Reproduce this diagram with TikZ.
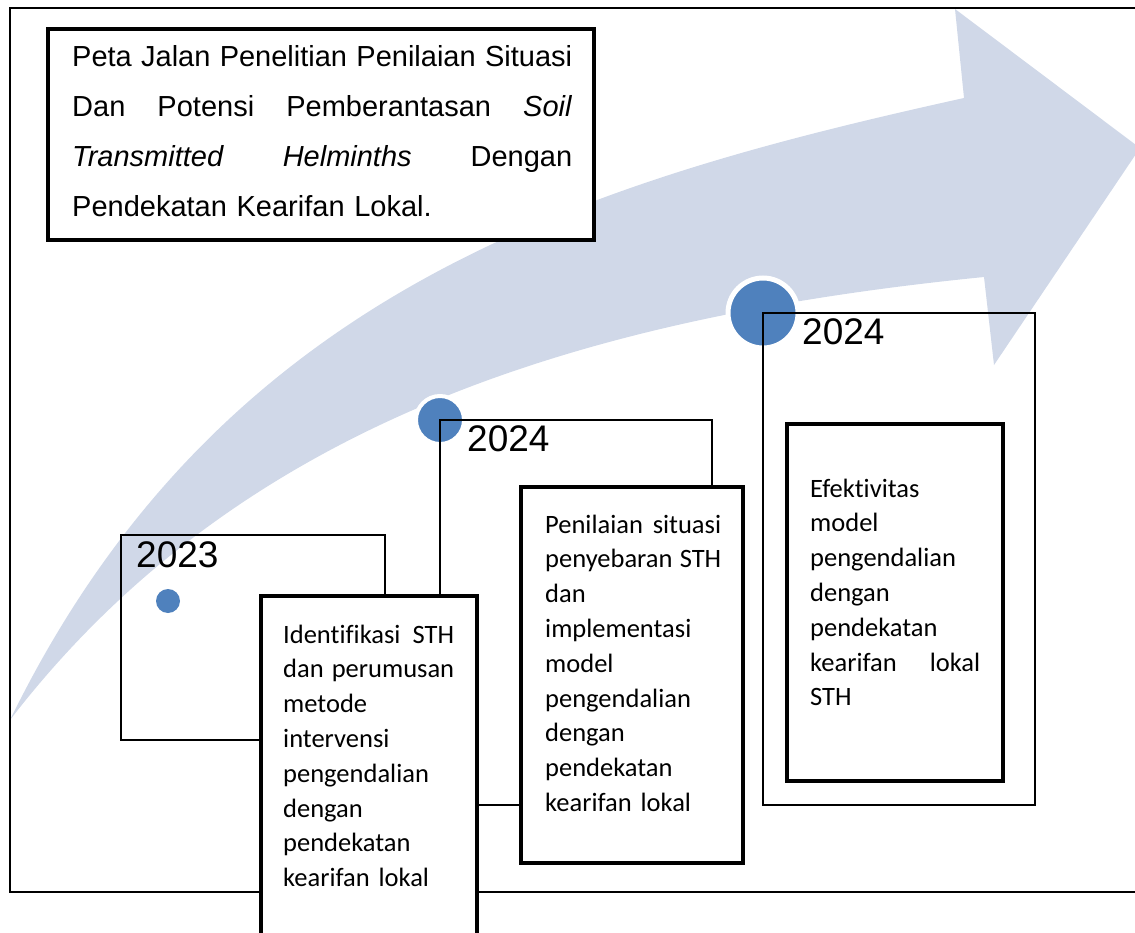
\documentclass[tikz,border=0pt]{standalone}
\usepackage{fontspec}
\setmainfont{Liberation Sans}
\newfontfamily\boxfont{Carlito}[Ligatures=NoCommon]
\definecolor{arrowfill}{HTML}{D0D8E8}
\definecolor{dotblue}{HTML}{4F81BD}
\newcommand{\jline}[2]{\leavevmode\hbox to #1{#2}}
\begin{document}
\begin{tikzpicture}[x=1pt, y=-1pt,
    thinbox/.style={draw=black, line width=1.4pt},
    thickbox/.style={draw=black, fill=white, line width=4.5pt},
    yeartext/.style={anchor=base west, inner sep=0pt, font=\fontsize{37}{40}\selectfont},
    boxtext/.style={anchor=base west, inner sep=0pt, align=left, font=\boxfont\fontsize{26.5}{34.8}\selectfont}]
    \useasboundingbox (0,0) rectangle (1135,933);
    \clip (0,0) rectangle (1135,933);

    % Curved arrow
    \fill[arrowfill] (10,720) .. controls (220,290) and (584,182) .. (964,98)
        -- (955,9) -- (1140,148) -- (994,365) -- (984,277)
        .. controls (584,317) and (240,421) .. (10,720) -- cycle;

    % Frame
    \draw[line width=1.4pt] (1140,8) -- (10,8) -- (10,892) -- (1140,892);

    % Milestones
    \fill[dotblue] (168,601) circle (12pt);
    \filldraw[dotblue, draw=white, line width=4pt] (440,420) circle (24pt);
    \filldraw[dotblue, draw=white, line width=5pt] (763,313) circle (35pt);

    % Year boxes
    \draw[thinbox] (121,535) rectangle (385,740);
    \draw[thinbox] (440,420) rectangle (712,805);
    \draw[thinbox] (763,313) rectangle (1035,805);
    \node[yeartext] (year1) at (136,567) {2023};
    \node[yeartext] (year2) at (467,451) {2024};
    \node[yeartext] (year3) at (802,344) {2024};

    % Step boxes
    \draw[thickbox] (261,596) rectangle (477,950);
    \draw[thickbox] (521,487) rectangle (743,863);
    \draw[thickbox] (787,424) rectangle (1003,781);
    \node[boxtext, text width=171pt] (stepA) at (283,643)
        {\jline{171pt}{Identifikasi\hfill STH}\\ \jline{171pt}{dan\hfill perumusan}\\ metode\\ intervensi\\
         pengendalian\\ dengan\\ pendekatan\\ kearifan lokal};
    \node[boxtext, text width=176pt] (stepB) at (545,533)
        {\jline{176pt}{Penilaian\hfill situasi}\\ \jline{176pt}{penyebaran\hfill STH}\\ dan\\ implementasi\\ model\\
         pengendalian\\ dengan\\ pendekatan\\ kearifan lokal};
    \node[boxtext, text width=170pt] (stepC) at (810,497)
        {Efektivitas\\ model\\ pengendalian\\ dengan\\ pendekatan\\ \jline{170pt}{kearifan\hfill lokal}\\ STH};

    % Title
    \draw[thickbox] (48,29) rectangle (594,240);
    \node[anchor=base west, inner sep=0pt, align=left, text width=500pt,
        font=\fontsize{29}{50}\selectfont] (title) at (72,67)
        {\jline{500pt}{Peta\hfill Jalan\hfill Penelitian\hfill Penilaian\hfill Situasi}\\
         \jline{500pt}{Dan\hfill Potensi\hfill Pemberantasan\hfill \textit{Soil}}\\
         \jline{500pt}{\textit{Transmitted}\hfill \textit{Helminths}\hfill Dengan}\\
         Pendekatan Kearifan Lokal.};
\end{tikzpicture}
\end{document}
